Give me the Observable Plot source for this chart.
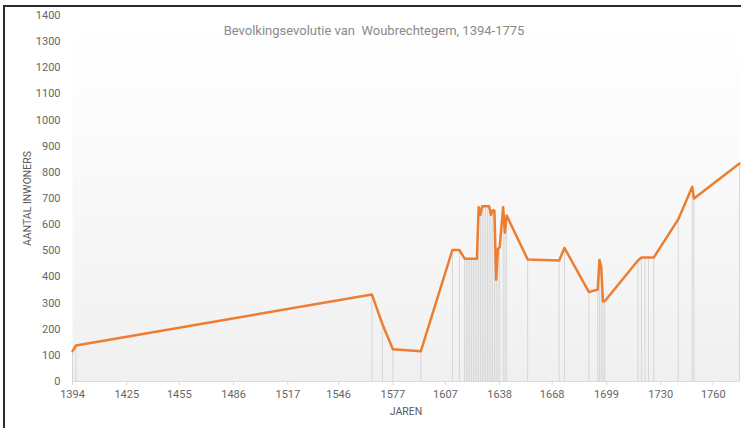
<!DOCTYPE html>
<html>
<head>
<meta charset="utf-8">
<script src="https://cdn.jsdelivr.net/npm/d3@7"></script>
<script src="https://cdn.jsdelivr.net/npm/@observablehq/plot@0.6"></script>
<style>
  html, body { margin: 0; padding: 0; background: #fff; overflow: hidden; }
  #wrap { position: relative; width: 741px; height: 428px; overflow: hidden; }
  .edge { position: absolute; background: #2b2b2b; pointer-events: none; }
  #topEdge { left: 3px; top: 5px; width: 738px; height: 2px; }
  #leftEdge { left: 3px; top: 5px; width: 2px; height: 423px; }
  svg { font-family: Roboto, "Open Sans", sans-serif; display: block; }
</style>
</head>
<body>
<div id="wrap"><div id="chart"></div><div id="topEdge" class="edge"></div><div id="leftEdge" class="edge"></div></div>
<script>
const title = "Bevolkingsevolutie van\u00a0 Woubrechtegem, 1394-1775";
const xLabel = "JAREN";
const yLabel = "AANTAL INWONERS";

const years = [1394, 1396, 1565, 1571, 1577, 1593, 1611, 1615, 1618, 1619, 1620, 1621, 1622, 1623, 1624, 1625,
  1626, 1627, 1628, 1629, 1630, 1631, 1632, 1633, 1634, 1635, 1636, 1637, 1638, 1640, 1641, 1642,
  1654, 1672, 1675, 1689, 1694, 1695, 1696, 1697, 1698, 1717, 1719, 1721, 1723, 1726, 1740, 1748, 1749, 1775];
const inwoners = [116, 138, 333, 220, 123, 116, 503, 503, 470, 470, 470, 470, 470, 470, 470, 470,
  667, 638, 670, 670, 670, 670, 670, 638, 655, 653, 389, 507, 514, 667, 569, 635,
  467, 463, 511, 342, 352, 465, 440, 307, 307, 463, 474, 474, 474, 474, 620, 745, 700, 834];

const xTicks = [1394, 1425, 1455, 1486, 1517, 1546, 1577, 1607, 1638, 1668, 1699, 1730, 1760];
const yTicks = [0, 100, 200, 300, 400, 500, 600, 700, 800, 900, 1000, 1100, 1200, 1300, 1400];

const data = years.map((y, i) => ({year: y, value: inwoners[i]}));

const defs = () => {
  const d = d3.create("svg:defs");
  const g = d.append("linearGradient").attr("id", "bgGrad")
    .attr("x1", 0).attr("y1", 0).attr("x2", 0).attr("y2", 1);
  g.append("stop").attr("offset", "0%").attr("stop-color", "#ffffff");
  g.append("stop").attr("offset", "12%").attr("stop-color", "#fefefe");
  g.append("stop").attr("offset", "100%").attr("stop-color", "#f0f0f0");
  return d.node();
};

const chart = Plot.plot({
  width: 741,
  height: 428,
  marginLeft: 72,
  marginRight: 2,
  marginTop: 15,
  marginBottom: 47,
  style: {fontFamily: "Roboto, sans-serif", fontSize: "11px", color: "#666", background: "transparent"},
  x: {domain: [1394, 1775], label: null},
  y: {domain: [0, 1400], label: null},
  marks: [
    defs,
    Plot.frame({fill: "url(#bgGrad)", stroke: "none"}),
    Plot.ruleX(data, {x: "year", y1: 0, y2: "value", stroke: "#d6d6d6", strokeWidth: 1}),
    Plot.ruleY([0], {stroke: "#d9d9d9", strokeWidth: 1}),
    Plot.axisX({ticks: xTicks, tickFormat: d => String(d), tickSize: 4, tickPadding: 5, stroke: "#d9d9d9", fill: "#666", fontSize: 11, label: null}),
    Plot.axisY({ticks: yTicks, tickFormat: d => String(d), tickSize: 0, tickPadding: 12, fill: "#666", fontSize: 11, label: null}),
    Plot.line(data, {x: "year", y: "value", stroke: "#ED7D31", strokeWidth: 2.5, strokeLinejoin: "round"}),
    Plot.text([title], {frameAnchor: "top", dx: -32, dy: 10, fill: "#8a8a8a", fontSize: 13}),
    Plot.text([xLabel], {frameAnchor: "bottom", dy: 33, fill: "#595959", fontSize: 10.5}),
    Plot.text([yLabel], {frameAnchor: "left", textAnchor: "middle", dx: -45, rotate: -90, fill: "#595959", fontSize: 10.5})
  ]
});
document.getElementById("chart").appendChild(chart);
</script>
</body>
</html>
